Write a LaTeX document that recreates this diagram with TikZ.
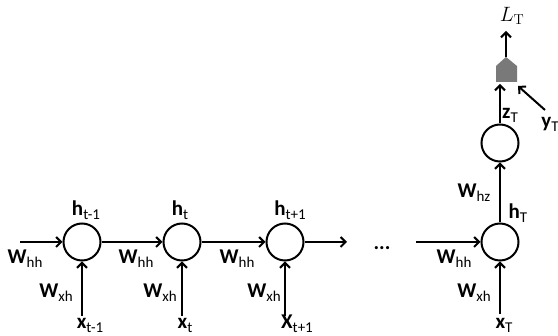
\documentclass[tikz,border=0pt]{standalone}
\usepackage[no-math]{fontspec}
\newfontfamily\carl{Carlito}
\usetikzlibrary{arrows.meta}
\newcommand\lbl[2]{{\bfseries #1}\raisebox{-4pt}{\mdseries\fontsize{15}{15}\selectfont #2}}
\begin{document}
\begin{tikzpicture}[x=1pt,y=-1pt,
  cell/.style={circle, draw, line width=2pt, minimum size=37pt, inner sep=0pt},
  arr/.style={line width=2pt, -{Straight Barb[length=5pt,width=10pt]}},
  lab/.style={font=\carl\fontsize{21}{21}\selectfont, inner sep=0pt}]
\useasboundingbox (0,0) rectangle (558,336);
% cells
\node[cell] (h1) at (82,242) {};
\node[cell] (h2) at (182,242) {};
\node[cell] (h3) at (285,242) {};
\node[cell] (hT) at (500,242) {};
\node[cell] (zc) at (500,143) {};
% free ends
\coordinate (in0) at (20,242);
\coordinate (out3) at (347,242);
\coordinate (inT) at (416,242);
\coordinate (x1) at (82,316);
\coordinate (x2) at (182,316);
\coordinate (x3) at (285,316);
\coordinate (xT) at (500,314);
\coordinate (pb) at (500,84);
\coordinate (ptop) at (506,57);
\coordinate (Lend) at (506,31);
\coordinate (ys) at (545,110);
\coordinate (ye) at (518,86);
% pentagon
\fill[gray!95!black] (496,82) -- (496,66) -- (ptop) -- (517,66) -- (517,82) -- cycle;
% arrows
\draw[arr] (in0) -- (h1);
\draw[arr] (h1) -- (h2);
\draw[arr] (h2) -- (h3);
\draw[arr] (h3) -- (out3);
\draw[arr] (inT) -- (hT);
\draw[arr] (x1) -- (h1);
\draw[arr] (x2) -- (h2);
\draw[arr] (x3) -- (h3);
\draw[arr] (xT) -- (hT);
\draw[arr] (hT) -- (zc);
\draw[arr] (zc) -- (pb);
\draw[arr] (ptop) -- (Lend);
\draw[arr] (ys) -- (ye);
% labels
\node[lab] (lw0) at (25,259) {\lbl{W}{hh}};
\node[lab] (lw1) at (136,259) {\lbl{W}{hh}};
\node[lab] (lw2) at (237,259) {\lbl{W}{hh}};
\node[lab] (lw3) at (454,259) {\lbl{W}{hh}};
\node[lab] (lx1) at (56,293) {\lbl{W}{xh}};
\node[lab] (lx2) at (160,293) {\lbl{W}{xh}};
\node[lab] (lx3) at (264,293) {\lbl{W}{xh}};
\node[lab] (lx4) at (474,293) {\lbl{W}{xh}};
\node[lab] (lh1) at (86,210) {\lbl{h}{t-1}};
\node[lab] (lh2) at (180,210) {\lbl{h}{t}};
\node[lab] (lh3) at (290,210) {\lbl{h}{t+1}};
\node[lab] (lhT) at (518,213) {\lbl{h}{T}};
\node[lab] (lxa) at (90,325) {\lbl{x}{t-1}};
\node[lab] (lxb) at (185,325) {\lbl{x}{t}};
\node[lab] (lxc) at (297,324) {\lbl{X}{t+1}};
\node[lab] (lxT) at (504,325) {\lbl{x}{T}};
\node[lab] (lwz) at (474,193) {\lbl{W}{hz}};
\node[lab] (lz) at (510,115) {\lbl{z}{T}};
\node[lab] (ly) at (550,124) {\lbl{y}{T}};
\node[lab] (dots) at (382,248) {\bfseries ...};
\node[inner sep=0pt, font=\fontsize{20}{20}\selectfont] (lL) at (512,16) {$L_{\mathrm{T}}$};
\end{tikzpicture}
\end{document}
